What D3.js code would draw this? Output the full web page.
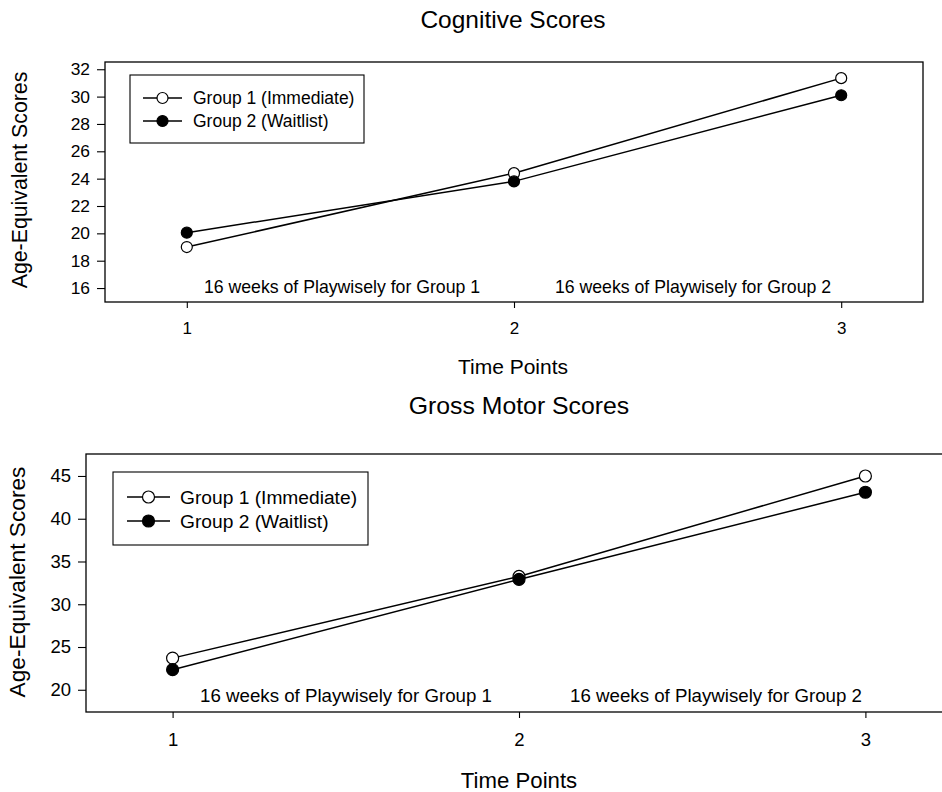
<!DOCTYPE html>
<html>
<head>
<meta charset="utf-8">
<script src="https://cdn.jsdelivr.net/npm/d3@7"></script>
<style>
  html, body { margin: 0; padding: 0; background: #fff; }
  svg { display: block; font-family: "Liberation Sans", Arial, sans-serif; }
</style>
</head>
<body>
<svg id="chart" width="942" height="792"></svg>
<script>
// Time points on the x axis
const timePoints = [1, 2, 3];

// Cognitive scores (age-equivalent)
const cognitiveGroup1 = [19.0, 24.4, 31.35];
const cognitiveGroup2 = [20.05, 23.8, 30.1];
const cognitiveTicks = [16, 18, 20, 22, 24, 26, 28, 30, 32];

// Gross motor scores (age-equivalent)
const motorGroup1 = [23.7, 33.25, 45.0];
const motorGroup2 = [22.35, 32.9, 43.1];
const motorTicks = [20, 25, 30, 35, 40, 45];

const seriesNames = ["Group 1 (Immediate)", "Group 2 (Waitlist)"];
const phaseNotes = ["16 weeks of Playwisely for Group 1", "16 weeks of Playwisely for Group 2"];

const svg = d3.select("#chart");

function drawPanel(cfg) {
  const g = svg.append("g");
  const x = d3.scaleLinear().domain([0.75, 3.25]).range([cfg.left, cfg.right]);
  const y = d3.scaleLinear().domain(cfg.yDomain).range([cfg.bottom, cfg.top]);

  // frame
  g.append("rect")
    .attr("x", cfg.left).attr("y", cfg.top)
    .attr("width", cfg.right - cfg.left).attr("height", cfg.bottom - cfg.top)
    .attr("fill", "none").attr("stroke", "#000").attr("stroke-width", 1.3);

  // y axis
  const ya = g.append("g").attr("transform", `translate(${cfg.left},0)`)
    .call(d3.axisLeft(y).tickValues(cfg.yTicks).tickSize(8).tickPadding(7).tickFormat(d3.format("d")));
  ya.attr("font-size", null).attr("font-family", null);
  ya.select(".domain").remove();
  ya.selectAll("line").attr("stroke", "#000").attr("stroke-width", 1.1);
  ya.selectAll("text").style("font-size", cfg.yTickFont + "px").attr("fill", "#000");

  // x axis
  const xa = g.append("g").attr("transform", `translate(0,${cfg.bottom})`)
    .call(d3.axisBottom(x).tickValues(timePoints).tickSize(6).tickPadding(cfg.xTickPad).tickFormat(d3.format("d")));
  xa.attr("font-size", null).attr("font-family", null);
  xa.select(".domain").remove();
  xa.selectAll("line").attr("stroke", "#000").attr("stroke-width", 1.1);
  xa.selectAll("text").style("font-size", cfg.xTickFont + "px").attr("fill", "#000");

  // titles
  g.append("text").attr("x", cfg.titleX).attr("y", cfg.titleY)
    .attr("text-anchor", "middle").style("font-size", cfg.titleFont + "px").text(cfg.title);
  g.append("text").attr("x", cfg.titleX).attr("y", cfg.xTitleY)
    .attr("text-anchor", "middle").style("font-size", cfg.xTitleFont + "px").text("Time Points");
  g.append("text")
    .attr("transform", `translate(${cfg.yTitleX},${cfg.yTitleCenter}) rotate(-90)`)
    .attr("text-anchor", "middle").style("font-size", cfg.yTitleFont + "px").text("Age-Equivalent Scores");

  // phase notes
  phaseNotes.forEach((t, i) => {
    g.append("text").attr("x", cfg.noteX[i]).attr("y", cfg.noteY)
      .attr("text-anchor", "middle").style("font-size", cfg.noteFont + "px").text(t);
  });

  // series
  const line = d3.line().x((d, i) => x(timePoints[i])).y(d => y(d));
  const series = [
    { values: cfg.g1, fill: "#fff" },
    { values: cfg.g2, fill: "#000" }
  ];
  series.forEach(s => {
    g.append("path").datum(s.values).attr("d", line)
      .attr("fill", "none").attr("stroke", "#000").attr("stroke-width", 1.5);
  });
  series.forEach(s => {
    g.selectAll(null).data(s.values).enter().append("circle")
      .attr("cx", (d, i) => x(timePoints[i])).attr("cy", d => y(d))
      .attr("r", cfg.r).attr("fill", s.fill).attr("stroke", "#000").attr("stroke-width", 1.2);
  });

  // legend
  const L = cfg.legend;
  g.append("rect").attr("x", L.x).attr("y", L.y).attr("width", L.w).attr("height", L.h)
    .attr("fill", "#fff").attr("stroke", "#000").attr("stroke-width", 1.1);
  series.forEach((s, i) => {
    const ry = L.rowY[i];
    g.append("line").attr("x1", L.lineX1).attr("x2", L.lineX2).attr("y1", ry).attr("y2", ry)
      .attr("stroke", "#000").attr("stroke-width", 1.4);
    g.append("circle").attr("cx", (L.lineX1 + L.lineX2) / 2).attr("cy", ry).attr("r", cfg.r)
      .attr("fill", s.fill).attr("stroke", "#000").attr("stroke-width", 1.2);
    g.append("text").attr("x", L.textX).attr("y", ry).attr("dy", "0.35em")
      .style("font-size", L.font + "px").text(seriesNames[i]);
  });
}

drawPanel({
  left: 105, right: 923, top: 62, bottom: 302,
  yDomain: [14.98, 32.53], yTicks: cognitiveTicks,
  g1: cognitiveGroup1, g2: cognitiveGroup2,
  yTickFont: 17.4, xTickFont: 17, xTickPad: 14,
  title: "Cognitive Scores", titleX: 513, titleY: 27.5, titleFont: 24.5,
  xTitleY: 373.5, xTitleFont: 21,
  yTitleX: 27, yTitleCenter: 180, yTitleFont: 21.3,
  noteX: [342, 693], noteY: 292.5, noteFont: 17.7,
  r: 5.5,
  legend: { x: 130, y: 75, w: 234, h: 68, rowY: [98, 121], lineX1: 143, lineX2: 182, textX: 193, font: 17.5 }
});

drawPanel({
  left: 86, right: 952, top: 454, bottom: 712,
  yDomain: [17.4, 47.57], yTicks: motorTicks,
  g1: motorGroup1, g2: motorGroup2,
  yTickFont: 18.5, xTickFont: 18.5, xTickPad: 15,
  title: "Gross Motor Scores", titleX: 519, titleY: 413.5, titleFont: 24.8,
  xTitleY: 787.5, xTitleFont: 22.2,
  yTitleX: 25, yTitleCenter: 582, yTitleFont: 22.7,
  noteX: [346, 716], noteY: 701.5, noteFont: 18.7,
  r: 6,
  legend: { x: 113, y: 472, w: 255, h: 73, rowY: [497, 521], lineX1: 127, lineX2: 170, textX: 180, font: 19.2 }
});
</script>
</body>
</html>
